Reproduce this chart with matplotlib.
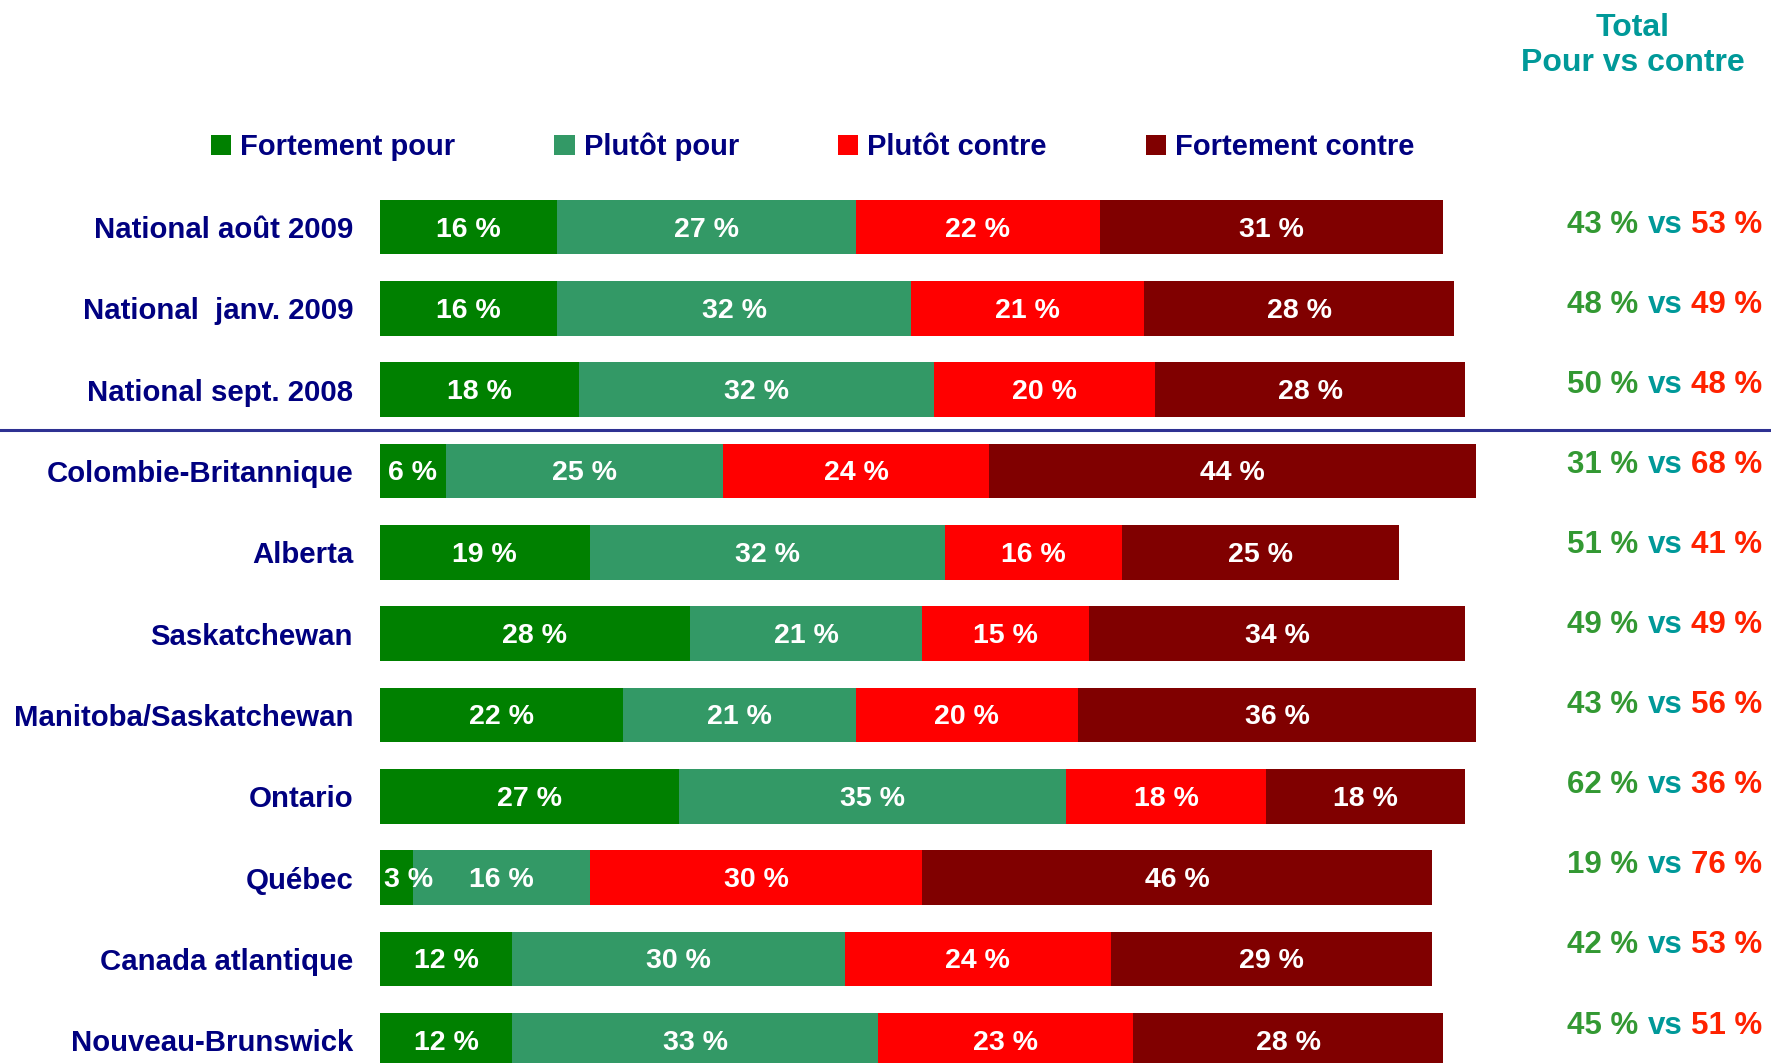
import matplotlib
matplotlib.use("Agg")
import matplotlib.pyplot as plt
from matplotlib.transforms import blended_transform_factory

plt.rcParams['font.family'] = ['Liberation Sans', 'DejaVu Sans']

# data
regions = ["National août 2009", "National  janv. 2009", "National sept. 2008",
           "Colombie-Britannique", "Alberta", "Saskatchewan", "Manitoba/Saskatchewan",
           "Ontario", "Québec", "Canada atlantique", "Nouveau-Brunswick"]
fort_pour = [16, 16, 18, 6, 19, 28, 22, 27, 3, 12, 12]
plutot_pour = [27, 32, 32, 25, 32, 21, 21, 35, 16, 30, 33]
plutot_contre = [22, 21, 20, 24, 16, 15, 20, 18, 30, 24, 23]
fort_contre = [31, 28, 28, 44, 25, 34, 36, 18, 46, 29, 28]
total_pour = [43, 48, 50, 31, 51, 49, 43, 62, 19, 42, 45]
total_contre = [53, 49, 48, 68, 41, 49, 56, 36, 76, 53, 51]
series_names = ["Fortement pour", "Plutôt pour", "Plutôt contre", "Fortement contre"]

colors = ["#008000", "#339966", "#FF0000", "#800000"]
navy = "#000080"

W, H = 1771, 1063
fig = plt.figure(figsize=(W / 100, H / 100), dpi=100)
ax = fig.add_axes([379.5 / W, -0.0168, 1108 / W, 0.8414])

series = [fort_pour, plutot_pour, plutot_contre, fort_contre]
ypos = list(range(len(regions)))
left = [0] * len(regions)
handles = []
for vals, col, name in zip(series, colors, series_names):
    bars = ax.barh(ypos, vals, left=left, height=0.67, color=col, label=name)
    handles.append(bars)
    for y, v, l in zip(ypos, vals, left):
        if v < 5:
            ax.text(l + 0.4, y + 0.03, f"{v} %", ha='left', va='center',
                    color='white', fontsize=20.5, fontweight='bold')
        else:
            ax.text(l + v / 2, y + 0.03, f"{v} %", ha='center', va='center',
                    color='white', fontsize=20.5, fontweight='bold')
    left = [a + b for a, b in zip(left, vals)]

ax.set_xlim(0, 100)
ax.set_ylim(10.5, -0.5)
ax.set_yticks(ypos)
ax.set_yticklabels(regions, fontsize=21.2, fontweight='bold', color=navy)
ax.tick_params(axis='y', length=0, pad=19)
ax.set_xticks([])
for s in ax.spines.values():
    s.set_visible(False)

# separator between national rows and provinces
trans = blended_transform_factory(fig.transFigure, ax.transData)
ax.plot([0, 1], [2.5, 2.5], transform=trans, color="#2E3192", lw=2.2, clip_on=False)

# right column: totals
fig.text(1633 / W, 1 - 45.5 / H, "Total\nPour vs contre", ha='center', va='center',
         color="#009999", fontsize=23, fontweight='bold', linespacing=1.2)
for i, (p, c) in enumerate(zip(total_pour, total_contre)):
    y = i * 0.985 - 0.03
    ax.text(1638 / W, y, f"{p} %", transform=trans, ha='right', va='center',
            color="#339933", fontsize=22.5, fontweight='bold')
    ax.text(1665 / W, y, "vs", transform=trans, ha='center', va='center',
            color="#009999", fontsize=22.5, fontweight='bold')
    ax.text(1691 / W, y, f"{c} %", transform=trans, ha='left', va='center',
            color="#FF2200", fontsize=22.5, fontweight='bold')

fig.legend(handles, series_names, loc='center left',
           bbox_to_anchor=(211 / W, 1 - 147 / H), ncol=4, frameon=False,
           prop={'weight': 'bold', 'size': 21}, labelcolor=navy,
           handlelength=0.7, handleheight=0.7, handletextpad=0.3,
           columnspacing=3.4, borderaxespad=0, borderpad=0)

fig.savefig("out.png", dpi=100)
